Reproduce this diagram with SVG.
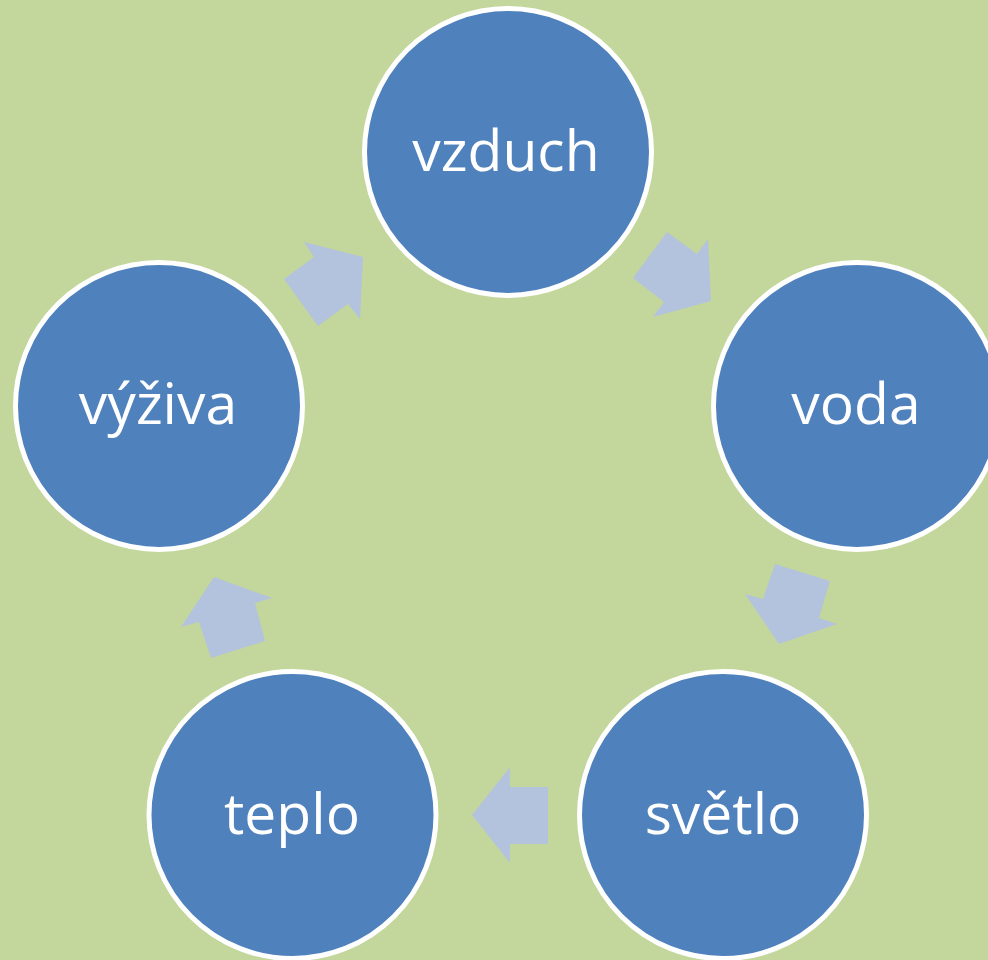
<svg xmlns="http://www.w3.org/2000/svg" width="988" height="960" viewBox="0 0 988 960">
<style>
.node{fill:#4F81BD;stroke:#FFFFFF;stroke-width:5}
.lbl{fill:#FFFFFF;font-family:"Open Sans","Noto Sans",sans-serif;font-size:57px;text-anchor:middle}
.arr{fill:#B3C3DE}
</style>
<rect x="0" y="0" width="988" height="960" fill="#C3D69B"/>
<g id="connectors">
<polygon class="arr" points="304,242 363,257 360,319 348,304 318,326 284,279 314,257"/>
<polygon class="arr" points="667,232 697,254 708,239 711,301 653,317 664,302 633,278"/>
<polygon class="arr" points="775,564 830,581 819,618 837,624 779,644 745,594 763,599"/>
<polygon class="arr" points="472,815 510,767 510,787 548,787 548,844 510,844 510,863"/>
<polygon class="arr" points="214,577 272,598 255,603 265,641 211,658 199,622 181,627"/>
</g>
<g id="vzduch">
<circle class="node" cx="508" cy="152" r="143.5"/>
<text class="lbl" x="506" y="171">vzduch</text>
</g>
<g id="voda">
<circle class="node" cx="857" cy="406" r="143.5"/>
<text class="lbl" x="856" y="424">voda</text>
</g>
<g id="svetlo">
<circle class="node" cx="723" cy="815" r="143.5"/>
<text class="lbl" x="723" y="834">světlo</text>
</g>
<g id="teplo">
<circle class="node" cx="292.5" cy="815" r="143.5"/>
<text class="lbl" x="292" y="834">teplo</text>
</g>
<g id="vyziva">
<circle class="node" cx="159" cy="406" r="143.5"/>
<text class="lbl" x="158" y="424">výživa</text>
</g>
</svg>
